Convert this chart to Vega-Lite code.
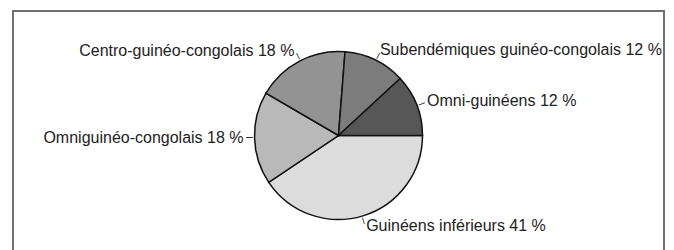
{
  "$schema": "https://vega.github.io/schema/vega-lite/v6.json",
  "width": 674,
  "height": 250,
  "autosize": {"type": "fit", "contains": "padding"},
  "padding": {"left": 13, "top": 11, "right": 10, "bottom": -10},
  "background": "white",
  "view": {"stroke": "#707070", "strokeWidth": 2, "fill": "white"},
  "config": {
    "view": {"stroke": "#707070", "strokeWidth": 2},
    "style": {"cell": {"stroke": "#707070", "strokeWidth": 2}},
    "text": {"font": "Liberation Sans"}
  },
  "data": {
    "values": [
      {"category": "Guinéens inférieurs", "pct": 41, "rank": 1, "label": "Guinéens inférieurs 41 %"},
      {"category": "Omniguinéo-congolais", "pct": 18, "rank": 2, "label": "Omniguinéo-congolais 18 %"},
      {"category": "Centro-guinéo-congolais", "pct": 18, "rank": 3, "label": "Centro-guinéo-congolais 18 %"},
      {"category": "Subendémiques guinéo-congolais", "pct": 12, "rank": 4, "label": "Subendémiques guinéo-congolais 12 %"},
      {"category": "Omni-guinéens", "pct": 12, "rank": 5, "label": "Omni-guinéens 12 %"}
    ]
  },
  "encoding": {
    "theta": {"field": "pct", "type": "quantitative", "stack": true, "scale": {"range": [1.5707963, 7.8539816]}},
    "order": {"field": "rank", "type": "quantitative"},
    "detail": {"field": "category", "type": "nominal"}
  },
  "layer": [
    {
      "mark": {"type": "arc", "outerRadius": 84, "stroke": "#111111", "strokeWidth": 1.5},
      "encoding": {
        "color": {
          "field": "category",
          "type": "nominal",
          "scale": {
            "domain": ["Guinéens inférieurs", "Omniguinéo-congolais", "Centro-guinéo-congolais", "Subendémiques guinéo-congolais", "Omni-guinéens"],
            "range": ["#dcdcdc", "#b9b9b9", "#939393", "#7c7c7c", "#575757"]
          },
          "legend": null
        }
      }
    },
    {
      "mark": {
        "type": "text",
        "radius": 89,
        "text": "–",
        "fontSize": 12,
        "color": "#222222",
        "baseline": "middle",
        "align": "center",
        "angle": {"expr": "scale('theta', (datum.pct_start + datum.pct_end) / 2) * 180 / PI - 90"}
      }
    },
    {
      "mark": {
        "type": "text",
        "radius": 95,
        "fontSize": 16,
        "color": "#222222",
        "baseline": "middle",
        "align": {"expr": "sin(scale('theta', (datum.pct_start + datum.pct_end) / 2)) > 0 ? 'left' : 'right'"}
      },
      "encoding": {"text": {"field": "label", "type": "nominal"}}
    }
  ]
}
